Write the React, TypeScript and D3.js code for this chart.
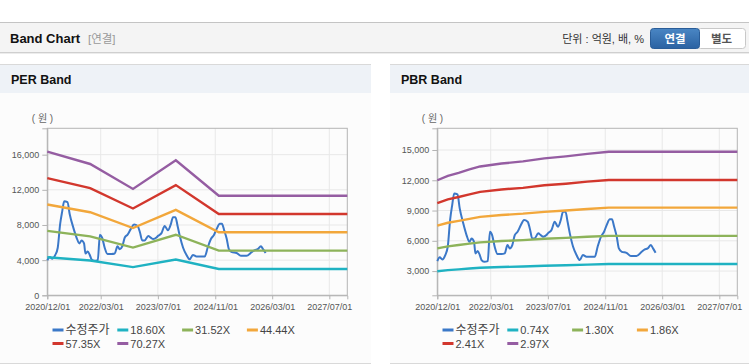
import React, { useEffect, useRef } from "react";
import * as d3 from "d3";

// adjusted share price (수정주가), same series in both panels
const priceDates = [
  "2020-12-01", "2020-12-22", "2021-01-13", "2021-02-07", "2021-02-28", "2021-03-20",
  "2021-04-07", "2021-04-24", "2021-05-22", "2021-06-10", "2021-07-10", "2021-08-07",
  "2021-09-01", "2021-09-19", "2021-10-10", "2021-10-22", "2021-11-10", "2021-11-28",
  "2021-12-13", "2022-01-04", "2022-02-04", "2022-02-22", "2022-03-13", "2022-04-04",
  "2022-04-28", "2022-06-01", "2022-06-28", "2022-07-22", "2022-08-10", "2022-09-01",
  "2022-09-22", "2022-10-16", "2022-11-13", "2022-12-10", "2023-01-10", "2023-01-28",
  "2023-02-18", "2023-03-10", "2023-04-10", "2023-05-01", "2023-05-22", "2023-06-19",
  "2023-07-01", "2023-08-01", "2023-08-28", "2023-09-25", "2023-10-19", "2023-11-07",
  "2023-11-28", "2023-12-16", "2024-01-04", "2024-02-01", "2024-03-01", "2024-03-28",
  "2024-04-25", "2024-05-25", "2024-07-07", "2024-08-04", "2024-08-28", "2024-09-25",
  "2024-10-22", "2024-11-13", "2024-12-10", "2024-12-28", "2025-01-16", "2025-02-07",
  "2025-02-25", "2025-03-22", "2025-05-01", "2025-06-07", "2025-07-25", "2025-09-07",
  "2025-10-04", "2025-10-28", "2025-11-25", "2025-12-13", "2026-01-04",
];
const priceValues = [
  3990, 4360, 4160, 4590, 5410, 8060,
  9545, 10700, 10600, 9220, 7730, 6570,
  5900, 6240, 5900, 4750, 4980, 4590,
  4090, 3920, 3990, 6900, 6570, 5410,
  4690, 4690, 4750, 5580, 5250, 5580,
  6570, 6900, 7560, 8060, 7890, 7230,
  6240, 6240, 6740, 6570, 6400, 6570,
  6740, 7070, 7890, 7390, 8060, 8880,
  8880, 7890, 6740, 5410, 4590, 4090,
  4590, 4420, 4420, 4420, 5410, 6400,
  6900, 7560, 8130, 8130, 7390, 6400,
  5250, 4910, 4810, 4490, 4490, 4910,
  5150, 5250, 5580, 5250, 4810,
];

// PER band
const perDates = ["2020-12-01", "2021-12-01", "2022-12-01", "2023-12-01", "2024-12-01", "2027-12-01"];
const perLabels = ["18.60X", "31.52X", "44.44X", "57.35X", "70.27X"];
const per1860 = [4325, 3955, 3205, 4065, 3000, 3000];
const per3152 = [7330, 6700, 5430, 6890, 5080, 5080];
const per4444 = [10330, 9450, 7650, 9715, 7165, 7165];
const per5735 = [13330, 12190, 9880, 12540, 9245, 9245];
const per7027 = [16340, 14940, 12100, 15360, 11330, 11330];
const perTicks = [0, 4000, 8000, 12000, 16000];

// PBR band
const pbrDates = [
  "2020-12-01", "2021-03-01", "2021-06-01", "2021-09-01", "2021-12-01", "2022-06-01",
  "2022-12-01", "2023-06-01", "2023-12-01", "2024-06-01", "2024-12-01", "2027-12-01",
];
const pbrLabels = ["0.74X", "1.30X", "1.86X", "2.41X", "2.97X"];
const pbr074 = [2990, 3100, 3170, 3260, 3330, 3400, 3460, 3530, 3580, 3640, 3700, 3700];
const pbr130 = [5250, 5450, 5580, 5720, 5850, 5980, 6070, 6200, 6290, 6400, 6490, 6490];
const pbr186 = [7510, 7790, 7980, 8180, 8370, 8560, 8690, 8870, 9000, 9150, 9290, 9290];
const pbr241 = [9740, 10100, 10340, 10600, 10850, 11090, 11250, 11500, 11660, 11860, 12030, 12030];
const pbr297 = [12000, 12440, 12740, 13070, 13370, 13660, 13870, 14170, 14370, 14610, 14830, 14830];
const pbrTicks = [3000, 6000, 9000, 12000, 15000];

const xTickLabels = ["2020/12/01", "2022/03/01", "2023/07/01", "2024/11/01", "2026/03/01", "2027/07/01"];
const xStart = "2020/12/01";
const xEnd = "2027/12/01";

const priceLabel = "수정주가";
const colors = ["#3b78c8", "#1fb2c2", "#8db35a", "#f2a73b", "#d2372d", "#955da2"];

const FONT = "'Liberation Sans', Arial, 'Noto Sans CJK KR', sans-serif";
const parseDash = d3.timeParse("%Y-%m-%d");
const parseSlash = d3.timeParse("%Y/%m/%d");

function drawPanel(root, cfg) {
  const g = root.append("g").attr("transform", `translate(${cfg.left},0)`);

  g.append("rect").attr("x", 0).attr("y", 65).attr("width", cfg.width).attr("height", 299).attr("fill", "#fcfcfc");
  g.append("rect").attr("x", 0).attr("y", 65).attr("width", cfg.width).attr("height", 28).attr("fill", "#eef2f7");
  g.append("line").attr("x1", 0).attr("x2", cfg.width).attr("y1", 64.5).attr("y2", 64.5).attr("stroke", "#d9d9d9");
  g.append("line").attr("x1", 0).attr("x2", cfg.width).attr("y1", 363.5).attr("y2", 363.5).attr("stroke", "#d9d9d9");
  g.append("text")
    .attr("x", 11).attr("y", 84)
    .attr("font-size", 12.5).attr("font-weight", "bold").attr("fill", "#111")
    .text(cfg.title);
  g.append("text")
    .attr("x", 42.5).attr("y", 122)
    .attr("text-anchor", "middle")
    .attr("font-size", 10).attr("fill", "#666")
    .attr("xml:space", "preserve")
    .style("white-space", "pre")
    .text("( 원 )");

  const pw = 300;
  const ph = 167;
  const x = d3.scaleTime().domain([parseSlash(xStart), parseSlash(xEnd)]).range([0, pw]);
  const y = d3.scaleLinear().domain(cfg.yDomain).range([ph, 0]);
  const plot = g.append("g").attr("transform", "translate(47.3,128.3)");

  const xTicks = xTickLabels.map((d) => parseSlash(d));

  plot.selectAll(".hgrid").data(cfg.yTicks).join("line")
    .attr("x1", 0).attr("x2", pw)
    .attr("y1", (d) => y(d)).attr("y2", (d) => y(d))
    .attr("stroke", "#e8e8e8");
  plot.selectAll(".vgrid").data(xTicks).join("line")
    .attr("x1", (d) => x(d)).attr("x2", (d) => x(d))
    .attr("y1", 0).attr("y2", ph)
    .attr("stroke", "#e8e8e8");
  plot.append("rect").attr("width", pw).attr("height", ph)
    .attr("fill", "none").attr("stroke", "#b4b4b4");

  // y axis
  const yAxis = plot.append("g").call(d3.axisLeft(y).tickValues(cfg.yTicks).tickSize(5).tickPadding(3).tickFormat(d3.format(",")));
  yAxis.select(".domain").attr("stroke", "#b4b4b4");
  yAxis.selectAll("line").attr("stroke", "#b4b4b4");
  yAxis.selectAll("text").attr("fill", "#555").attr("font-size", 9).attr("font-family", FONT);

  // x axis
  const xAxis = plot.append("g").attr("transform", `translate(0,${ph})`)
    .call(d3.axisBottom(x).tickValues(xTicks).tickSize(4).tickPadding(4).tickFormat(d3.timeFormat("%Y/%m/%d")));
  xAxis.select(".domain").attr("stroke", "#b4b4b4");
  xAxis.selectAll("line").attr("stroke", "#b4b4b4");
  xAxis.selectAll("text").attr("fill", "#555").attr("font-size", 9).attr("font-family", FONT);

  const priceLine = d3.line()
    .x((d) => x(d[0])).y((d) => y(d[1]))
    .curve(d3.curveMonotoneX);
  const bandLine = d3.line()
    .x((d) => x(d[0])).y((d) => y(d[1]));

  const pricePts = priceDates.map((d, i) => [parseDash(d), priceValues[i]]);
  plot.append("path").attr("d", priceLine(pricePts))
    .attr("fill", "none").attr("stroke", colors[0]).attr("stroke-width", 2);

  const bandDates = cfg.bandDates.map((d) => parseDash(d));
  cfg.bands.forEach((vals, i) => {
    plot.append("path")
      .attr("d", bandLine(bandDates.map((d, j) => [d, vals[j]])))
      .attr("fill", "none").attr("stroke", colors[i + 1]).attr("stroke-width", 2.4);
  });

  // legend
  const names = [priceLabel, ...cfg.bandLabels];
  const legend = g.selectAll(".legend").data(names).join("g")
    .attr("transform", (d, i) => `translate(${52.5 + (i % 4) * 64.8},${330 + Math.floor(i / 4) * 13.5})`);
  legend.append("line")
    .attr("x1", 0).attr("x2", 11).attr("y1", 0).attr("y2", 0)
    .attr("stroke", (d, i) => colors[i]).attr("stroke-width", 3);
  legend.append("text")
    .attr("x", 13).attr("y", 4)
    .attr("font-size", (d, i) => (i === 0 ? 12 : 11))
    .attr("fill", "#444")
    .text((d) => d);
}

export default function App() {
  const ref = useRef(null);

  useEffect(() => {
    const svg = d3.select(ref.current);
    svg.selectAll("*").remove();

    // top header bar
    svg.append("rect").attr("width", 749).attr("height", 364).attr("fill", "#ffffff");
    svg.append("rect").attr("x", 0).attr("y", 22).attr("width", 749).attr("height", 31).attr("fill", "#f4f4f4");
    svg.append("line").attr("x1", 0).attr("x2", 749).attr("y1", 22.5).attr("y2", 22.5).attr("stroke", "#c4c4c4");
    svg.append("line").attr("x1", 0).attr("x2", 749).attr("y1", 52.5).attr("y2", 52.5).attr("stroke", "#cfcfcf");
    svg.append("line").attr("x1", 0).attr("x2", 749).attr("y1", 53.5).attr("y2", 53.5).attr("stroke", "#ececec");
    svg.append("text").attr("x", 10).attr("y", 43)
      .attr("font-size", 13).attr("font-weight", "bold").attr("fill", "#111").text("Band Chart");
    svg.append("text").attr("x", 88).attr("y", 43)
      .attr("font-size", 11.5).attr("fill", "#999").text("[연결]");
    svg.append("text").attr("x", 644).attr("y", 43).attr("text-anchor", "end")
      .attr("font-size", 11).attr("fill", "#333").text("단위 : 억원, 배, %");

    const grad = svg.append("defs").append("linearGradient")
      .attr("id", "btn").attr("x1", 0).attr("x2", 0).attr("y1", 0).attr("y2", 1);
    grad.append("stop").attr("offset", "0%").attr("stop-color", "#4a86c4");
    grad.append("stop").attr("offset", "100%").attr("stop-color", "#2a62a2");

    svg.append("rect").attr("x", 697.5).attr("y", 28.5).attr("width", 48).attr("height", 20).attr("rx", 3)
      .attr("fill", "#ffffff").attr("stroke", "#c8c8c8");
    svg.append("rect").attr("x", 650.5).attr("y", 28.5).attr("width", 49).attr("height", 20).attr("rx", 3)
      .attr("fill", "url(#btn)").attr("stroke", "#2a5d98");
    svg.append("text").attr("x", 675).attr("y", 43).attr("text-anchor", "middle")
      .attr("font-size", 11.5).attr("font-weight", "bold").attr("fill", "#ffffff").text("연결");
    svg.append("text").attr("x", 721.5).attr("y", 43).attr("text-anchor", "middle")
      .attr("font-size", 11.5).attr("font-weight", "bold").attr("fill", "#555").text("별도");

    drawPanel(svg, {
      left: 0, width: 371, title: "PER Band",
      yDomain: [0, 19000], yTicks: perTicks,
      bandDates: perDates, bandLabels: perLabels,
      bands: [per1860, per3152, per4444, per5735, per7027],
    });
    drawPanel(svg, {
      left: 390, width: 359, title: "PBR Band",
      yDomain: [600, 17150], yTicks: pbrTicks,
      bandDates: pbrDates, bandLabels: pbrLabels,
      bands: [pbr074, pbr130, pbr186, pbr241, pbr297],
    });
  }, []);

  return (
    <svg
      ref={ref}
      width={749}
      height={364}
      style={{ position: "absolute", left: 0, top: 0, fontFamily: FONT }}
    />
  );
}
